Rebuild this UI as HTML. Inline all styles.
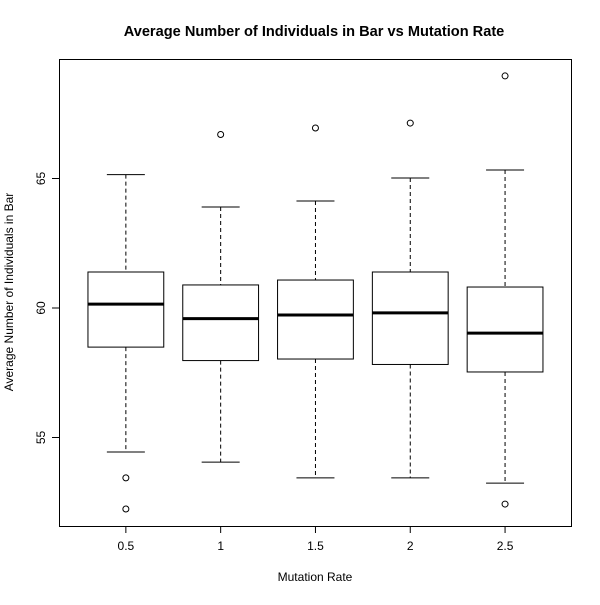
<!DOCTYPE html>
<html><head><meta charset="utf-8"><style>
body{margin:0;background:#fff}
svg text{font-family:"Liberation Sans",sans-serif;fill:#000}
</style></head><body>
<svg id="chart" width="600" height="600">
<rect width="600" height="600" fill="#fff"/>
<text x="314" y="36" text-anchor="middle" font-size="14.6" font-weight="bold">Average Number of Individuals in Bar vs Mutation Rate</text>
<text x="315" y="581" text-anchor="middle" font-size="12">Mutation Rate</text>
<text transform="translate(13,292) rotate(-90)" text-anchor="middle" font-size="12">Average Number of Individuals in Bar</text>
<rect x="59.5" y="59.5" width="512" height="467" fill="none" stroke="#000"/>
<g id="marks"></g>
</svg>
<script>
const categories = ["0.5","1","1.5","2","2.5"];
const whiskerLow = [54.44,54.05,53.44,53.44,53.24];
const q1 = [58.49,57.97,58.03,57.82,57.53];
const medians = [60.15,59.59,59.73,59.81,59.03];
const q3 = [61.39,60.89,61.08,61.39,60.81];
const whiskerHigh = [65.15,63.9,64.13,65.02,65.33];
const outliers = [[53.44,52.24],[66.7],[66.95],[67.14],[68.96,52.43]];
const yTicks = [55,60,65];

const ns="http://www.w3.org/2000/svg";
const g=document.getElementById('marks');
const X=i=>59.5+(i+1-0.3)*94.8;
const Y=v=>308-(v-60)*25.9;
function mk(t,a){const e=document.createElementNS(ns,t);for(const k in a)e.setAttribute(k,a[k]);g.appendChild(e);return e;}
yTicks.forEach(v=>{
  const t=mk('line',{x1:52,x2:59.5,y1:Y(v),y2:Y(v),stroke:'#000'});
  
  
  const l=mk('text',{transform:`translate(45,${Y(v)}) rotate(-90)`,'text-anchor':'middle','font-size':12});
  l.textContent=v;
  
  
});
categories.forEach((c,i)=>{
  const x=X(i),hw=37.9,cw=19;
  const t=mk('line',{x1:x,x2:x,y1:526.5,y2:533,stroke:'#000'});
  
  
  const l=mk('text',{x:x,y:550,'text-anchor':'middle','font-size':12});
  l.textContent=c;
  
  
  const w1=mk('line',{x1:x,x2:x,y1:Y(whiskerHigh[i]),y2:Y(q3[i]),stroke:'#000','stroke-dasharray':'4,3'});
  
  
  const w2=mk('line',{x1:x,x2:x,y1:Y(q1[i]),y2:Y(whiskerLow[i]),stroke:'#000','stroke-dasharray':'4,3'});
  
  
  [whiskerHigh[i],whiskerLow[i]].forEach(v=>{
    const s=mk('line',{x1:x-cw,x2:x+cw,y1:Y(v),y2:Y(v),stroke:'#000'});
    
    
  });
  const b=mk('rect',{x:x-hw,y:Y(q3[i]),width:2*hw,height:Y(q1[i])-Y(q3[i]),fill:'none',stroke:'#000'});
  
  
  const m=mk('line',{x1:x-hw,x2:x+hw,y1:Y(medians[i]),y2:Y(medians[i]),stroke:'#000','stroke-width':3});
  
  
  outliers[i].forEach(v=>{
    const o=mk('circle',{cx:x,cy:Y(v),r:3,fill:'none',stroke:'#000'});
    
    
  });
});
</script>
</body></html>
